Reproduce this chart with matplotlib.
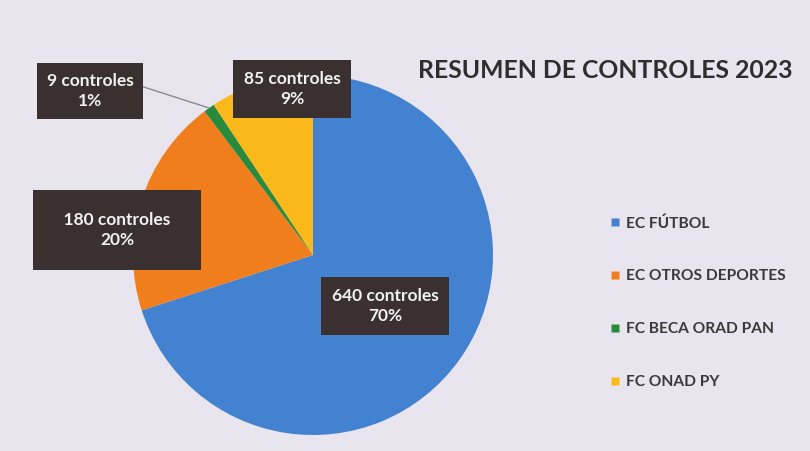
import numpy as np
import matplotlib.pyplot as plt
from matplotlib.lines import Line2D

categorias = ["EC FÚTBOL", "EC OTROS DEPORTES", "FC BECA ORAD PAN", "FC ONAD PY"]
controles = [640, 180, 9, 85]
colores = ["#4282d0", "#f07e1c", "#2a8a3c", "#fbb81a"]

FONDO = "#e8e5ee"
CAJA = "#3a3030"
TEXTO = "#3a3a3a"

plt.rcParams["font.family"] = ["Lato", "DejaVu Sans"]

fig = plt.figure(figsize=(8.1, 4.51), dpi=100, facecolor=FONDO)

# pie: centre (313, 255) px, radius 180 px
cx, cy, r = 313, 255, 180
W, H = 810, 451
ax = fig.add_axes([(cx - r) / W, (H - cy - r) / H, 2 * r / W, 2 * r / H])
wedges, _ = ax.pie(controles, colors=colores, startangle=90, counterclock=False,
                   wedgeprops=dict(linewidth=0))
ax.set_xlim(-1, 1)
ax.set_ylim(-1, 1)
ax.set_aspect("equal")
ax.axis("off")


def px(x, y):
    return ((x - cx) / r, (cy - y) / r)


total = sum(controles)
# label centres in pixels and box padding
posiciones = [(385, 306), (117, 230), (90, 91), (292, 89)]
pads = [0.6, 1.25, 0.55, 0.6]
for i, (n, pos, pad) in enumerate(zip(controles, posiciones, pads)):
    pct = round(100 * n / total)
    txt = f"{n} controles\n{pct}%"
    if i == 1:
        # wider box for this label
        txt = f"  {n} controles  \n{pct}%"
    if i == 2:
        # leader line to the thin green slice
        ang_ini = 90 - 360 * sum(controles[:2]) / total
        ang_fin = 90 - 360 * sum(controles[:3]) / total
        ang = np.deg2rad((ang_ini + ang_fin) / 2)
        kw = dict(xy=(np.cos(ang), np.sin(ang)),
                  arrowprops=dict(arrowstyle="-", color="#8a8a96", lw=1.0,
                                  shrinkA=0, shrinkB=0,
                                  relpos=(1.0, 0.7)))
    else:
        kw = dict(xy=px(*pos))
    ax.annotate(txt, xytext=px(*pos), textcoords="data",
                ha="center", va="center", fontsize=12.5, fontweight="bold",
                color="#f2f2f2", linespacing=1.35, annotation_clip=False,
                bbox=dict(boxstyle=f"square,pad={pad}", fc=CAJA, ec="none"),
                **kw)

fig.text(418 / W, 1 - 70 / H, "RESUMEN DE CONTROLES 2023", ha="left", va="center",
         fontsize=17.8, fontweight="bold", color="#2e2e2e")

handles = [Line2D([], [], marker="s", linestyle="none", markersize=6,
                  markerfacecolor=c, markeredgecolor="none") for c in colores]
leg = fig.legend(handles, categorias, loc="upper left",
                 bbox_to_anchor=(596 / W, 1 - 202 / H), frameon=False,
                 handlelength=0.6, handletextpad=0.4, labelspacing=2.5,
                 prop=dict(size=11.2, weight="bold"))
for t in leg.get_texts():
    t.set_color(TEXTO)

fig.savefig("out.png", dpi=100, facecolor=FONDO)
